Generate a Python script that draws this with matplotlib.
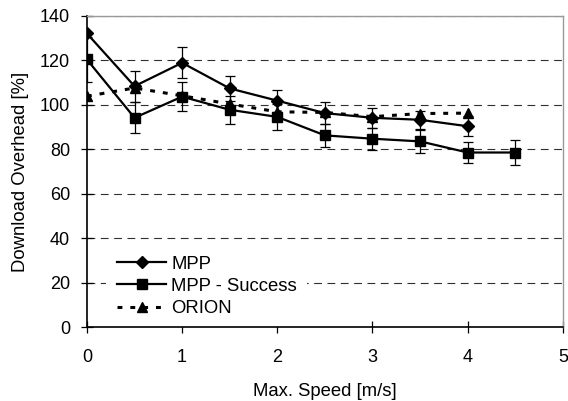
import matplotlib
matplotlib.use("Agg")
import matplotlib.pyplot as plt
from matplotlib.lines import Line2D

plt.rcParams['font.family'] = ['Liberation Sans', 'DejaVu Sans']

speed_mpp = [0, 0.5, 1, 1.5, 2, 2.5, 3, 3.5, 4]
mpp = [132, 108.3, 118.8, 107.3, 101.8, 96.2, 94.1, 93.2, 90.3]
mpp_err = [0, 7, 7, 5.5, 5, 5, 4.5, 4, 4.5]

speed_succ = [0, 0.5, 1, 1.5, 2, 2.5, 3, 3.5, 4, 4.5]
succ = [120.3, 94.1, 103.6, 97.7, 94.5, 86.2, 84.7, 83.5, 78.5, 78.5]
succ_err = [10, 7, 6.5, 6.4, 6, 5, 5, 5, 4.5, 5.5]

speed_orion = [0, 0.5, 1, 1.5, 2, 2.5, 3, 3.5, 4]
orion = [103.8, 107.5, 104, 100.3, 96.8, 96.5, 94.6, 96, 96.2]

xticks = [0, 1, 2, 3, 4, 5]
yticks = [0, 20, 40, 60, 80, 100, 120, 140]

fig = plt.figure(figsize=(5.68, 4.01), dpi=100)
ax = fig.add_axes([0.153, 0.184, 0.838, 0.777])

for y in yticks[1:]:
    ax.axhline(y, color='#303030', lw=0.8, ls=(0, (7, 5)), zorder=0)

ax.errorbar(speed_mpp, mpp, yerr=mpp_err, color='black', lw=1.6, marker='D',
            ms=6.5, capsize=3.3, elinewidth=0.9, capthick=0.9, zorder=3)
ax.errorbar(speed_succ, succ, yerr=succ_err, color='black', lw=1.6, marker='s',
            ms=7, capsize=3.3, elinewidth=0.9, capthick=0.9, zorder=3)
ax.plot(speed_orion, orion, color='black', lw=2.2, ls=(0, (1.6, 2.6)), marker='^',
        ms=7.5, zorder=4)

ax.set_xlim(0, 5)
ax.set_ylim(0, 140)
ax.set_xticks(xticks)
ax.set_yticks(yticks)
ax.tick_params(axis='y', direction='inout', length=8, width=0.9, labelsize=13, pad=8)
ax.tick_params(axis='x', direction='inout', length=8, width=0.9, labelsize=13, pad=12)
for s in ['left', 'bottom']:
    ax.spines[s].set_color('black')
    ax.spines[s].set_linewidth(1.2)
for s in ['right', 'top']:
    ax.spines[s].set_color('#999999')
    ax.spines[s].set_linewidth(1.0)

ax.set_xlabel('Max. Speed [m/s]', fontsize=13.3, labelpad=12)
ax.set_ylabel('Download Overhead [%]', fontsize=13.3, labelpad=8)

handles = [
    Line2D([], [], color='black', lw=1.6, marker='D', ms=6.5),
    Line2D([], [], color='black', lw=1.6, marker='s', ms=7),
    Line2D([], [], color='black', lw=2.2, ls=(0, (1.6, 2.6)), marker='^', ms=7.5),
]
leg = ax.legend(handles, ['MPP', 'MPP - Success', 'ORION'], loc='upper left',
                bbox_to_anchor=(0.062 - 0.021, 0.230 + 0.032), frameon=True,
                fontsize=13.3, handlelength=2.7, handletextpad=0.25,
                labelspacing=0.28, borderaxespad=0.0, borderpad=0.55,
                fancybox=False, framealpha=1.0)
leg.get_frame().set_facecolor('white')
leg.get_frame().set_edgecolor('none')
leg.set_zorder(2.4)

fig.savefig('out.png', dpi=100)
